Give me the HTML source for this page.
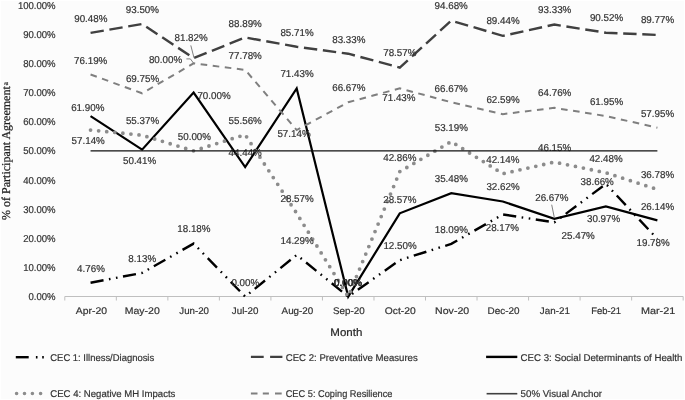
<!DOCTYPE html>
<html><head><meta charset="utf-8"><style>
html,body{margin:0;padding:0;background:#fff;width:685px;height:400px;overflow:hidden;}
svg{display:block;filter:grayscale(1);text-rendering:geometricPrecision;}
</style></head><body>
<svg width="685" height="400" viewBox="0 0 685 400">
<rect width="685" height="400" fill="#ffffff"/><rect x="1" y="1" width="683" height="398" fill="#fcfcfc"/>
<g font-family="Liberation Sans, sans-serif" font-size="10" fill="#333333" stroke="#333333" stroke-width="0.2" text-anchor="end">
<text transform="translate(55.6,300.20) scale(0.955,1)">0.00%</text>
<text transform="translate(55.6,271.05) scale(0.955,1)">10.00%</text>
<text transform="translate(55.6,241.90) scale(0.955,1)">20.00%</text>
<text transform="translate(55.6,212.75) scale(0.955,1)">30.00%</text>
<text transform="translate(55.6,183.60) scale(0.955,1)">40.00%</text>
<text transform="translate(55.6,154.45) scale(0.955,1)">50.00%</text>
<text transform="translate(55.6,125.30) scale(0.955,1)">60.00%</text>
<text transform="translate(55.6,96.15) scale(0.955,1)">70.00%</text>
<text transform="translate(55.6,67.00) scale(0.955,1)">80.00%</text>
<text transform="translate(55.6,37.85) scale(0.955,1)">90.00%</text>
<text transform="translate(55.6,8.70) scale(0.955,1)">100.00%</text>
</g>
<g stroke="#bfbfbf" stroke-width="1" fill="none">
<path d="M64.80,296.5 H683.16"/>
<path d="M64.80,296.5 V300.5"/>
<path d="M116.33,296.5 V300.5"/>
<path d="M167.86,296.5 V300.5"/>
<path d="M219.39,296.5 V300.5"/>
<path d="M270.92,296.5 V300.5"/>
<path d="M322.45,296.5 V300.5"/>
<path d="M373.98,296.5 V300.5"/>
<path d="M425.51,296.5 V300.5"/>
<path d="M477.04,296.5 V300.5"/>
<path d="M528.57,296.5 V300.5"/>
<path d="M580.10,296.5 V300.5"/>
<path d="M631.63,296.5 V300.5"/>
<path d="M683.16,296.5 V300.5"/>
</g>
<g font-family="Liberation Sans, sans-serif" font-size="10" fill="#333333" stroke="#333333" stroke-width="0.2" text-anchor="middle">
<text transform="translate(91.45,314) scale(1.040,0.96)">Apr-20</text>
<text transform="translate(142.25,314) scale(1.050,0.96)">May-20</text>
<text transform="translate(194.10,314) scale(0.970,0.96)">Jun-20</text>
<text transform="translate(245.15,314) scale(0.980,0.96)">Jul-20</text>
<text transform="translate(297.45,314) scale(0.985,0.96)">Aug-20</text>
<text transform="translate(348.80,314) scale(0.980,0.96)">Sep-20</text>
<text transform="translate(400.20,314) scale(1.030,0.96)">Oct-20</text>
<text transform="translate(452.15,314) scale(1.060,0.96)">Nov-20</text>
<text transform="translate(503.50,314) scale(0.990,0.96)">Dec-20</text>
<text transform="translate(554.85,314) scale(0.980,0.96)">Jan-21</text>
<text transform="translate(606.10,314) scale(0.945,0.96)">Feb-21</text>
<text transform="translate(658.10,314) scale(1.080,0.96)">Mar-21</text>
</g>
<text x="346.3" y="335.9" font-family="Liberation Sans, sans-serif" font-size="11" fill="#262626" stroke="#262626" stroke-width="0.2" text-anchor="middle" textLength="32" lengthAdjust="spacingAndGlyphs">Month</text>
<text transform="translate(10.2,219.9) rotate(-90)" font-family="Liberation Serif, serif" font-size="12" fill="#1f1f1f" stroke="#1f1f1f" stroke-width="0.25">% of Participant Agreement</text>
<text transform="translate(8.2,85.6) rotate(-90)" font-family="Liberation Serif, serif" font-size="8" fill="#1f1f1f" stroke="#1f1f1f" stroke-width="0.15">a</text>
<polyline fill="none" stroke="#000" stroke-width="2.4" stroke-dasharray="13.2 5.5 1.6 5.55 1.6 5.55" points="90.56,282.72 142.09,272.90 193.62,243.61 245.16,296.60 296.69,254.94 348.22,296.60 399.75,260.16 451.28,243.87 502.81,214.48 554.34,222.35 605.87,183.91 657.39,238.94"/>
<polyline fill="none" stroke="#404040" stroke-width="2.4" stroke-dasharray="13.4 5.7" points="90.56,32.85 142.09,24.05 193.62,58.09 245.16,37.49 296.69,46.76 348.22,53.69 399.75,67.57 451.28,20.61 502.81,35.88 554.34,24.54 605.87,32.73 657.39,34.92"/>
<polyline fill="none" stroke="#000" stroke-width="2.2" stroke-linejoin="miter" points="90.56,116.16 142.09,149.65 193.62,92.55 245.16,167.06 296.69,88.38 348.22,296.60 399.75,213.32 451.28,193.18 502.81,201.51 554.34,218.86 605.87,206.32 657.39,220.40"/>
<polyline fill="none" stroke="#8c8c8c" stroke-width="3.8" stroke-linecap="round" stroke-dasharray="0 8.115" points="90.56,130.04 142.09,135.20 193.62,150.85 245.16,134.64 296.69,213.32 348.22,296.60 399.75,171.66 451.28,141.55 502.81,173.76 554.34,162.07 605.87,172.77 657.39,189.39"/>
<polyline fill="none" stroke="#7f7f7f" stroke-width="2" stroke-dasharray="6.6 5.55" points="90.56,74.51 142.09,93.28 193.62,63.40 245.16,69.87 296.69,130.04 348.22,102.26 399.75,88.38 451.28,102.26 502.81,114.15 554.34,107.82 605.87,116.02 657.39,127.68"/>
<g font-family="Liberation Sans, sans-serif" font-size="10" fill="#333333" stroke="#333333" stroke-width="0.2" text-anchor="middle">
<text transform="translate(90.80,21.90) scale(0.980,1.000)">90.48%</text>
<text transform="translate(142.40,12.50) scale(0.980,1.000)">93.50%</text>
<text transform="translate(191.10,40.90) scale(0.980,1.000)">81.82%</text>
<text transform="translate(245.20,26.80) scale(0.980,1.000)">88.89%</text>
<text transform="translate(297.00,35.60) scale(0.980,1.000)">85.71%</text>
<text transform="translate(348.80,42.80) scale(0.980,1.000)">83.33%</text>
<text transform="translate(399.80,56.20) scale(0.980,1.000)">78.57%</text>
<text transform="translate(451.20,9.10) scale(0.980,1.000)">94.68%</text>
<text transform="translate(503.00,24.40) scale(0.980,1.000)">89.44%</text>
<text transform="translate(554.70,13.00) scale(0.980,1.000)">93.33%</text>
<text transform="translate(606.50,21.20) scale(0.980,1.000)">90.52%</text>
<text transform="translate(657.50,23.20) scale(0.980,1.000)">89.77%</text>
<text transform="translate(90.70,63.80) scale(0.980,1.000)">76.19%</text>
<text transform="translate(142.50,82.00) scale(0.980,1.000)">69.75%</text>
<text transform="translate(165.50,62.80) scale(0.980,1.000)">80.00%</text>
<text transform="translate(245.20,58.70) scale(0.980,1.000)">77.78%</text>
<text transform="translate(294.00,137.20) scale(0.980,1.000)">57.14%</text>
<text transform="translate(348.80,90.80) scale(0.980,1.000)">66.67%</text>
<text transform="translate(398.90,101.00) scale(0.980,1.000)">71.43%</text>
<text transform="translate(451.20,92.10) scale(0.980,1.000)">66.67%</text>
<text transform="translate(503.00,103.30) scale(0.980,1.000)">62.59%</text>
<text transform="translate(554.70,96.20) scale(0.980,1.000)">64.76%</text>
<text transform="translate(606.50,105.10) scale(0.980,1.000)">61.95%</text>
<text transform="translate(657.50,116.50) scale(0.980,1.000)">57.95%</text>
<text transform="translate(87.75,111.00) scale(0.980,1.000)">61.90%</text>
<text transform="translate(139.60,163.60) scale(0.980,1.000)">50.41%</text>
<text transform="translate(214.00,99.10) scale(0.980,1.000)">70.00%</text>
<text transform="translate(245.20,156.20) scale(0.980,1.000)">44.44%</text>
<text transform="translate(297.00,76.90) scale(0.980,1.000)">71.43%</text>
<text transform="translate(348.00,286.00) scale(0.980,1.000)">0.00%</text>
<text transform="translate(399.80,202.50) scale(0.980,1.000)">28.57%</text>
<text transform="translate(451.30,182.20) scale(0.980,1.000)">35.48%</text>
<text transform="translate(503.00,190.40) scale(0.980,1.000)">32.62%</text>
<text transform="translate(551.80,201.10) scale(0.980,1.000)">26.67%</text>
<text transform="translate(603.60,221.90) scale(0.980,1.000)">30.97%</text>
<text transform="translate(657.50,209.80) scale(0.980,1.000)">26.14%</text>
<text transform="translate(88.20,143.90) scale(0.980,1.000)">57.14%</text>
<text transform="translate(142.50,124.20) scale(0.980,1.000)">55.37%</text>
<text transform="translate(194.40,140.00) scale(0.980,1.000)">50.00%</text>
<text transform="translate(245.20,124.00) scale(0.980,1.000)">55.56%</text>
<text transform="translate(297.10,202.20) scale(0.980,1.000)">28.57%</text>
<text transform="translate(348.00,286.00) scale(0.980,1.000)">0.00%</text>
<text transform="translate(399.80,160.70) scale(0.980,1.000)">42.86%</text>
<text transform="translate(451.30,130.50) scale(0.980,1.000)">53.19%</text>
<text transform="translate(502.80,162.50) scale(0.980,1.000)">42.14%</text>
<text transform="translate(554.60,150.80) scale(0.980,1.000)">46.15%</text>
<text transform="translate(606.00,162.10) scale(0.980,1.000)">42.48%</text>
<text transform="translate(657.50,178.00) scale(0.980,1.000)">36.78%</text>
<text transform="translate(91.00,272.00) scale(0.980,1.000)">4.76%</text>
<text transform="translate(142.20,262.20) scale(0.980,1.000)">8.13%</text>
<text transform="translate(193.90,232.20) scale(0.980,1.000)">18.18%</text>
<text transform="translate(245.30,285.80) scale(0.980,1.000)">0.00%</text>
<text transform="translate(297.10,243.50) scale(0.980,1.000)">14.29%</text>
<text transform="translate(348.00,286.00) scale(0.980,1.000)">0.00%</text>
<text transform="translate(400.00,249.00) scale(0.980,1.000)">12.50%</text>
<text transform="translate(451.30,233.10) scale(0.980,1.000)">18.09%</text>
<text transform="translate(502.30,231.30) scale(0.980,1.000)">28.17%</text>
<text transform="translate(578.20,238.70) scale(0.980,1.000)">25.47%</text>
<text transform="translate(597.20,184.90) scale(0.980,1.000)">38.66%</text>
<text transform="translate(653.10,245.60) scale(0.980,1.000)">19.78%</text>
</g>
<g stroke="#808080" stroke-width="1" fill="none">
<path d="M190.8,45.4 L194,57.8"/>
<path d="M186.4,58.9 H190.4 L193.6,63.2"/>
<path d="M551.7,204.7 L554.4,218"/>
</g>
<path d="M90.56,150.85 H657.39" stroke="#111" stroke-width="1.15"/>
<g font-family="Liberation Sans, sans-serif" font-size="10" fill="#333333" stroke="#333333" stroke-width="0.2">
<text transform="translate(50.30,360.60) scale(0.944,0.98)">CEC 1: Illness/Diagnosis</text>
<text transform="translate(285.70,360.60) scale(0.962,0.98)">CEC 2: Preventative Measures</text>
<text transform="translate(520.60,360.60) scale(0.967,0.98)">CEC 3: Social Determinants of Health</text>
<text transform="translate(50.30,397.00) scale(0.958,0.98)">CEC 4: Negative MH Impacts</text>
<text transform="translate(285.70,397.00) scale(0.923,0.98)">CEC 5: Coping Resilience</text>
<text transform="translate(520.60,397.00) scale(0.973,0.98)">50% Visual Anchor</text>
</g>
<path d="M15.8,357.2 H28.7" stroke="#000" stroke-width="2.4"/>
<path d="M35.9,357.2 h1.6 M42.2,357.2 h1.6" stroke="#000" stroke-width="2.4"/>
<path d="M250.9,356.9 H263.7 M270.1,356.9 H282.4" stroke="#404040" stroke-width="2.4"/>
<path d="M486.1,356.9 H517.3" stroke="#000" stroke-width="2.4"/>
<path d="M16.6,393.5 h0 M24.5,393.5 h0 M32.4,393.5 h0 M40.6,393.5 h0" stroke="#8c8c8c" stroke-width="3.6" stroke-linecap="round"/>
<path d="M250.9,393.5 H257.5 M262.8,393.5 H268.9 M275,393.5 H281.7" stroke="#7f7f7f" stroke-width="2"/>
<path d="M486.6,393.7 H517.3" stroke="#404040" stroke-width="1.6"/>
</svg>
</body></html>
